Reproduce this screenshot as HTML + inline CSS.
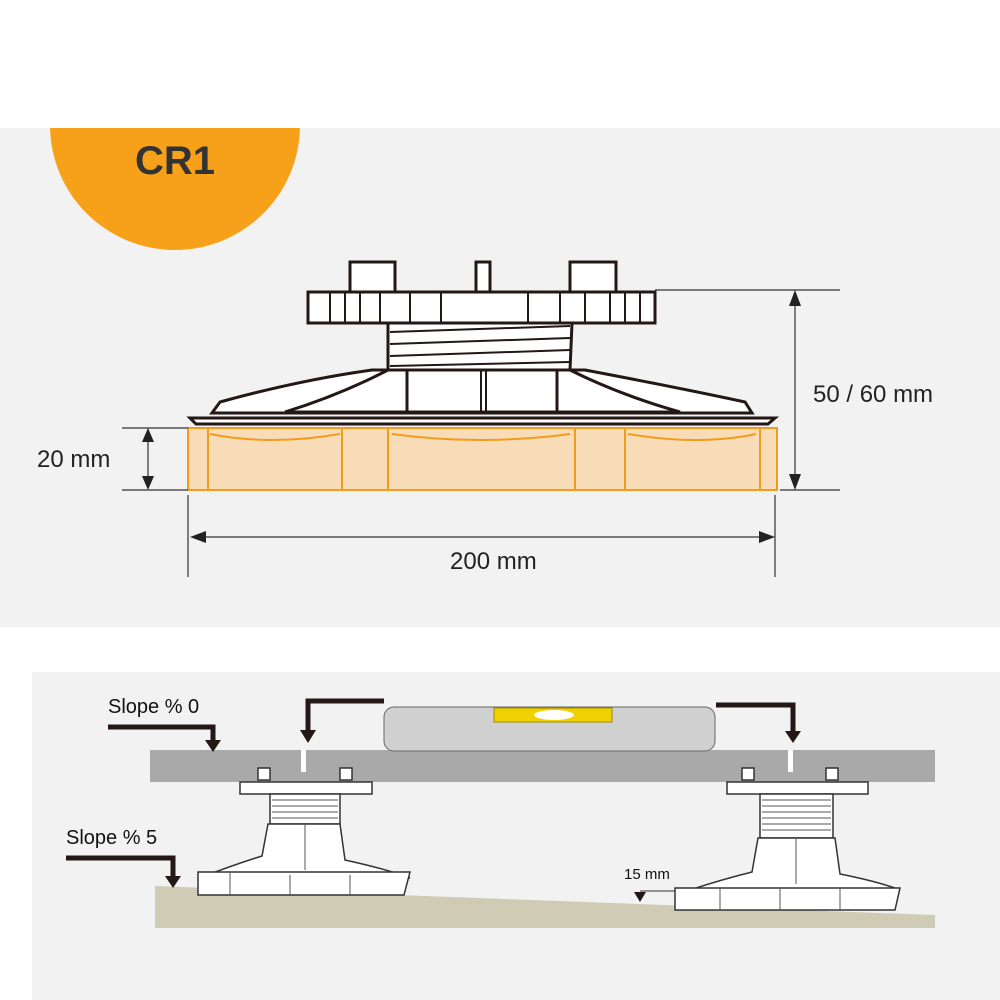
<!DOCTYPE html>
<html><head><style>body{margin:0;background:#fff}svg{display:block}text{font-family:"Liberation Sans",sans-serif}</style></head><body>
<svg width="1000" height="1000" viewBox="0 0 1000 1000" xmlns="http://www.w3.org/2000/svg">
<rect x="0" y="0" width="1000" height="1000" fill="#fff"/>
<rect x="0" y="128" width="1000" height="499" fill="#f2f2f2"/>
<clipPath id="c"><rect x="0" y="128" width="1000" height="499"/></clipPath>
<circle cx="175" cy="125" r="125" fill="#f7a11a" clip-path="url(#c)"/>
<text x="175" y="174" font-size="40" text-anchor="middle" fill="#333" font-weight="bold">CR1</text>
<!-- orange base -->
<rect x="188" y="428" width="589" height="62" fill="#f8dcb7" stroke="#f39c1b" stroke-width="2"/>
<g stroke="#f39c1b" stroke-width="2" fill="none">
<path d="M208 428V490M342 428V490M388 428V490M575 428V490M625 428V490M760 428V490"/>
<path d="M210 434Q270 446 340 434M392 434Q480 446 570 434M628 434Q700 446 756 434"/>
</g>
<!-- pedestal -->
<g stroke="#231815" stroke-width="3" fill="#fff">
<rect x="350" y="262" width="45" height="30"/><rect x="570" y="262" width="46" height="30"/><rect x="476" y="262" width="14" height="30"/>
<rect x="308" y="292" width="347" height="31"/>
<path d="M388 323H572L570 370H388Z"/>
<path d="M190 418H775L768 424H196Z"/>
<path d="M212 413L220 402Q300 380 372 370H585Q680 388 745 402L752 413Z"/>
<path d="M285 412Q340 395 388 370H570Q620 395 680 412Z"/>
<rect x="407" y="370" width="150" height="42"/>
</g>
<g stroke="#231815" stroke-width="2" fill="none">
<path d="M330 292V323M345 292V323M360 292V323M380 292V323M410 292V323M441 292V323M528 292V323M560 292V323M585 292V323M610 292V323M625 292V323M640 292V323"/>
<path d="M390 332L570 326M390 344L570 338M390 356L570 350M390 366L570 362"/>
<path d="M481 370V412M486 370V412"/>
</g>
<!-- dims -->
<g stroke="#333" stroke-width="1.2" fill="none">
<path d="M655 290H840M780 490H840M122 428H188M122 490H188M188 495V577M775 495V577"/>
<path d="M795 295V485M148 432V486M194 537H770"/>
</g>
<g fill="#222">
<path d="M795 290l-6 16h12zM795 490l-6-16h12zM148 428l-6 14h12zM148 490l-6-14h12zM190 537l16-6v12zM775 537l-16-6v12z"/>
</g>
<text x="813" y="402" font-size="24" fill="#222">50 / 60 mm</text>
<text x="37" y="467" font-size="24" fill="#222">20 mm</text>
<text x="450" y="569" font-size="24" fill="#222">200 mm</text>
<!-- bottom panel -->
<rect x="32" y="672" width="968" height="328" fill="#f2f2f2"/>
<path d="M155 886L935 915V928H155Z" fill="#cfcbb5"/>
<rect x="150" y="750" width="785" height="32" fill="#a9a9a9"/>
<rect x="301" y="750" width="5" height="22" fill="#fff"/><rect x="788" y="750" width="5" height="22" fill="#fff"/>
<rect x="384" y="707" width="331" height="44" rx="10" fill="#d0d0d0" stroke="#666" stroke-width="1"/>
<rect x="494" y="708" width="118" height="14" fill="#f1d000" stroke="#a08a00"/>
<ellipse cx="554" cy="715" rx="20" ry="5" fill="#fff"/>
<g stroke="#231815" stroke-width="5" fill="none">
<path d="M384 701H308V732M716 705H793V734M108 727H213V742M66 858H173V878"/>
</g>
<g fill="#231815">
<path d="M300 730h16l-8 13zM785 731h16l-8 12zM205 740h16l-8 12zM165 876h16l-8 12zM634 892h12l-6 10z"/>
</g>
<text x="108" y="713" font-size="20" fill="#111">Slope % 0</text>
<text x="66" y="844" font-size="20" fill="#111">Slope % 5</text>
<text x="624" y="879" font-size="15" fill="#111">15 mm</text>
<path d="M640 891H700" stroke="#333"/>
<!-- small pedestals -->
<g stroke="#333" stroke-width="1.5" fill="#fff">
<rect x="258" y="768" width="12" height="12"/><rect x="340" y="768" width="12" height="12"/>
<rect x="240" y="782" width="132" height="12"/>
<rect x="270" y="794" width="70" height="30"/>
<path d="M268 824H340L345 860Q390 870 410 878H200Q230 866 262 856Z"/>
<path d="M198 872H410L404 895H198Z"/>
<rect x="742" y="768" width="12" height="12"/><rect x="826" y="768" width="12" height="12"/>
<rect x="727" y="782" width="141" height="12"/>
<rect x="760" y="794" width="73" height="44"/>
<path d="M758 838H835L840 874Q880 882 900 890H690Q720 880 752 872Z"/>
<path d="M675 888H900L895 910H675Z"/>
</g>
<g stroke="#555" stroke-width="1" fill="none">
<path d="M272 800H338M272 806H338M272 812H338M272 818H338M762 800H831M762 806H831M762 812H831M762 818H831M762 824H831M762 830H831"/>
<path d="M305 824V870M796 838V884M230 872V895M290 875V895M350 875V895M720 888V910M780 888V910M840 888V910"/>
</g>
</svg>
</body></html>
